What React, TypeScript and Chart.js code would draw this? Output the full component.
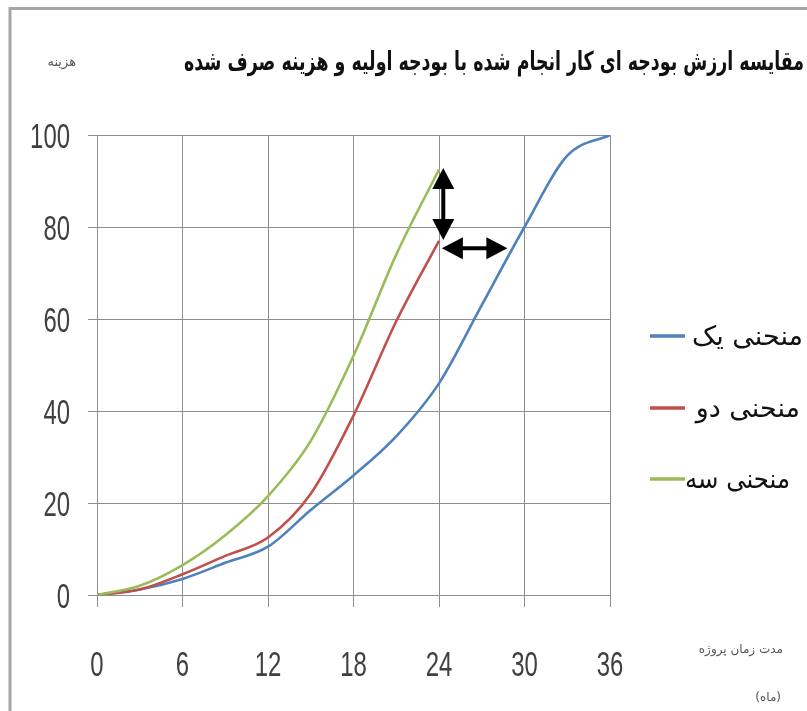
import React, { useEffect, useRef } from "react";
import { Chart, registerables } from "chart.js";

Chart.register(...registerables);

// ---- data ----
const months = [0, 3, 6, 9, 12, 15, 18, 21, 24, 27, 30, 33, 36];
const curveOne = [0, 1.2, 3.5, 7, 10.5, 18.5, 26, 34.5, 46, 63, 80, 95.5, 100];
const curveTwo = [0, 1.2, 4.5, 8.5, 12.5, 22, 39, 59.5, 77];
const curveThree = [0, 2, 6.5, 13, 21.5, 33.5, 52, 74, 92.5];
const seriesLabels = ["منحنی یک", "منحنی دو", "منحنی سه"];
const seriesColors = ["#4F81BD", "#C0504D", "#9BBB59"];
const xTicks = [0, 6, 12, 18, 24, 30, 36];
const yTicks = [0, 20, 40, 60, 80, 100];
const titleText = "مقایسه ارزش بودجه ای کار انجام شده با بودجه اولیه و هزینه صرف شده";
const yTitle = "هزینه";
const xTitle = "مدت زمان پروژه";
const xUnit = "(ماه)";
// double arrows in data units: [x1, y1, x2, y2]
const verticalArrow = [24.3, 92.8, 24.3, 77.2];
const horizontalArrow = [24.2, 75.4, 28.8, 75.4];

const PERSIAN_FONT = '"DejaVu Sans", "Noto Sans", sans-serif';
const DIGIT_FONT = '"Liberation Sans Narrow", "Liberation Sans", "DejaVu Sans Condensed", sans-serif';

function drawArrowHead(ctx: CanvasRenderingContext2D, tx: number, ty: number, ang: number) {
  const len = 21;
  const half = 11;
  const bx = tx - Math.cos(ang) * len;
  const by = ty - Math.sin(ang) * len;
  const px = -Math.sin(ang) * half;
  const py = Math.cos(ang) * half;
  ctx.beginPath();
  ctx.moveTo(tx, ty);
  ctx.lineTo(bx + px, by + py);
  ctx.lineTo(bx - px, by - py);
  ctx.closePath();
  ctx.fill();
}

function drawDoubleArrow(ctx: CanvasRenderingContext2D, x1: number, y1: number, x2: number, y2: number) {
  const ang = Math.atan2(y2 - y1, x2 - x1);
  const inset = 15;
  ctx.beginPath();
  ctx.moveTo(x1 + Math.cos(ang) * inset, y1 + Math.sin(ang) * inset);
  ctx.lineTo(x2 - Math.cos(ang) * inset, y2 - Math.sin(ang) * inset);
  ctx.lineWidth = 4;
  ctx.stroke();
  drawArrowHead(ctx, x2, y2, ang);
  drawArrowHead(ctx, x1, y1, ang + Math.PI);
}

const overlayPlugin = {
  id: "overlay",
  afterDraw(chart: any) {
    const ctx: CanvasRenderingContext2D = chart.ctx;
    const xs = chart.scales.x;
    const ys = chart.scales.y;
    ctx.save();

    // outer frame (left + top visible)
    ctx.strokeStyle = "#a6a6a6";
    ctx.lineWidth = 3;
    ctx.strokeRect(10, 8.5, 820, 720);

    // tick labels
    ctx.fillStyle = "#404040";
    ctx.font = `35px ${DIGIT_FONT}`;
    ctx.textBaseline = "alphabetic";
    ctx.textAlign = "right";
    yTicks.forEach((v) => {
      const s = String(v);
      ctx.fillText(s, 70, ys.getPixelForValue(v) + 13, 13.3 * s.length);
    });
    ctx.textAlign = "center";
    xTicks.forEach((v) => {
      const s = String(v);
      ctx.fillText(s, xs.getPixelForValue(v), 676, 13.3 * s.length);
    });

    // title
    ctx.fillStyle = "#111";
    ctx.direction = "rtl";
    ctx.textAlign = "right";
    ctx.textBaseline = "middle";
    ctx.font = `bold 26px ${PERSIAN_FONT}`;
    ctx.fillText(titleText, 804, 63, 620);

    // axis titles
    ctx.fillStyle = "#555";
    ctx.font = `13px ${PERSIAN_FONT}`;
    ctx.fillText(yTitle, 76, 63, 43);
    ctx.font = `12px ${PERSIAN_FONT}`;
    ctx.fillText(xTitle, 783, 650, 86);
    ctx.fillText(xUnit, 781, 698, 26);

    // legend
    const legendY = [336, 408, 479];
    const legendRight = [803, 800, 790];
    const legendWidth = [117, 110, 105];
    chart.data.datasets.forEach((ds: any, i: number) => {
      const y = legendY[i];
      ctx.strokeStyle = ds.borderColor;
      ctx.lineWidth = 3.5;
      ctx.beginPath();
      ctx.moveTo(650, y);
      ctx.lineTo(685, y);
      ctx.stroke();
      ctx.fillStyle = "#111";
      ctx.font = `27px ${PERSIAN_FONT}`;
      ctx.textAlign = "right";
      ctx.fillText(ds.label, legendRight[i], y + 2, legendWidth[i]);
    });

    // arrows
    ctx.direction = "ltr";
    ctx.fillStyle = "#000";
    ctx.strokeStyle = "#000";
    drawDoubleArrow(
      ctx,
      xs.getPixelForValue(verticalArrow[0]),
      ys.getPixelForValue(verticalArrow[1]),
      xs.getPixelForValue(verticalArrow[2]),
      ys.getPixelForValue(verticalArrow[3])
    );
    drawDoubleArrow(
      ctx,
      xs.getPixelForValue(horizontalArrow[0]),
      ys.getPixelForValue(horizontalArrow[1]),
      xs.getPixelForValue(horizontalArrow[2]),
      ys.getPixelForValue(horizontalArrow[3])
    );

    ctx.restore();
  },
};

export default function App() {
  const canvasRef = useRef<HTMLCanvasElement | null>(null);

  useEffect(() => {
    const canvas = canvasRef.current;
    if (!canvas) return;
    const series = [curveOne, curveTwo, curveThree];
    const gridColor = "#8e8e8e";
    const chart = new Chart(canvas, {
      type: "line",
      data: {
        datasets: series.map((vals, i) => ({
          label: seriesLabels[i],
          data: vals.map((v, j) => ({ x: months[j], y: v })),
          borderColor: seriesColors[i],
          backgroundColor: seriesColors[i],
          borderWidth: 2.6,
          pointRadius: 0,
          cubicInterpolationMode: "monotone" as const,
          fill: false,
          order: 2 - i,
        })),
      },
      options: {
        animation: false,
        responsive: false,
        devicePixelRatio: 1,
        layout: { padding: { left: 20, right: 197, top: 135, bottom: 56 } },
        plugins: {
          legend: { display: false },
          title: { display: false },
          tooltip: { enabled: false },
        },
        scales: {
          x: {
            type: "linear",
            min: 0,
            max: 36,
            afterBuildTicks: (scale: any) => {
              scale.ticks = xTicks.map((v) => ({ value: v }));
            },
            afterFit: (scale: any) => {
              scale.height = 60;
            },
            ticks: { display: false },
            grid: { color: gridColor, lineWidth: 1, tickLength: 12, drawTicks: true },
            border: { color: gridColor, width: 1 },
          },
          y: {
            type: "linear",
            min: 0,
            max: 100,
            afterBuildTicks: (scale: any) => {
              scale.ticks = yTicks.map((v) => ({ value: v }));
            },
            afterFit: (scale: any) => {
              scale.width = 77;
            },
            ticks: { display: false },
            grid: { color: gridColor, lineWidth: 1, tickLength: 9, drawTicks: true },
            border: { color: gridColor, width: 1 },
          },
        },
      },
      plugins: [overlayPlugin],
    });
    return () => chart.destroy();
  }, []);

  return (
    <div style={{ position: "fixed", left: 0, top: 0, width: 807, height: 711, background: "#fff" }}>
      <canvas ref={canvasRef} width={807} height={711} style={{ display: "block" }} />
    </div>
  );
}
